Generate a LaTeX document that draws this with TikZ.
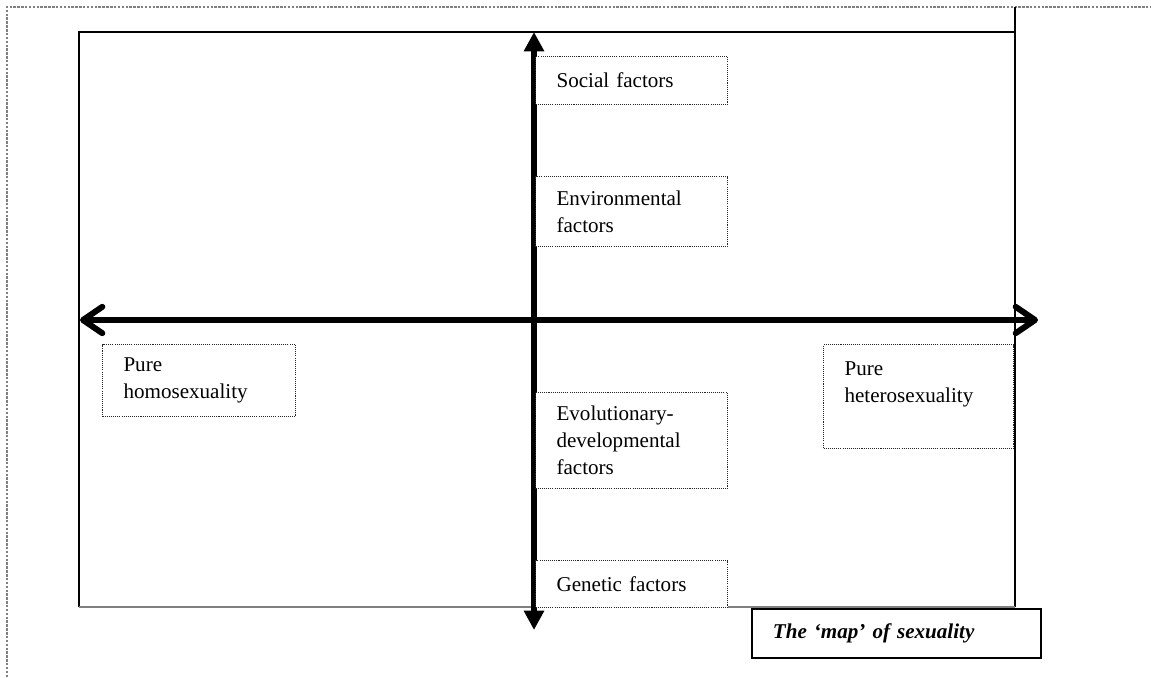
\documentclass[tikz,border=0pt]{standalone}
\usepackage{fontspec}
\setmainfont{Liberation Serif}
\usetikzlibrary{arrows.meta}

\begin{document}
\begin{tikzpicture}[x=0.02cm, y=-0.02cm,
    factorbox/.style={draw=black!85, fill=white, line width=0.6pt,
      dash pattern=on 0.6pt off 0.6pt, anchor=north west, align=left,
      inner xsep=0.42cm, inner ysep=0pt, font=\fontsize{12}{15.4}\selectfont},
    axisline/.style={line width=3.4pt}]
  \useasboundingbox (0,0) rectangle (1151,677);
  % page border
  \draw[gray, line width=0.6pt, dash pattern=on 1.4pt off 0.8pt] (7,677) -- (7,7) -- (1151,7);
  % frame of the map
  \draw[line width=1.2pt] (79,607) -- (79,32) -- (1015,32);
  \draw[line width=1.2pt] (1015,7) -- (1015,607);
  \draw[gray, line width=0.8pt] (79,607) -- (1015,607);
  % axes
  \coordinate (vtop) at (534,32);
  \coordinate (vbot) at (534,630);
  \coordinate (hleft) at (80,320);
  \coordinate (hright) at (1038,320);
  \draw[axisline, {Triangle[length=11pt,width=11pt]}-{Triangle[length=11pt,width=11pt]}] (vtop) -- (vbot);
  \draw[axisline, {Straight Barb[length=11pt,width=15pt,line width=0pt 1,round]}-{Straight Barb[length=11pt,width=15pt,line width=0pt 1,round]}] (hleft) -- (hright);
  % factors
  \node[factorbox, text width=3.0cm, minimum height=0.96cm] (social) at (535,56) {Social factors};
  \node[factorbox, text width=3.0cm, minimum height=1.4cm] (environ) at (535,176) {Environmental\\factors};
  \node[factorbox, text width=3.0cm, minimum height=1.92cm] (evodevo) at (535,392) {Evolutionary-\\developmental\\factors};
  \node[factorbox, text width=3.0cm, minimum height=0.94cm] (genetic) at (535,560) {Genetic factors};
  % poles
  \node[factorbox, text width=3.02cm, minimum height=1.44cm] (homo) at (102,344) {Pure\\homosexuality};
  \node[factorbox, text width=2.96cm, minimum height=2.08cm, inner ysep=0.34cm,
        text depth=1.1cm] (hetero) at (823,344) {Pure\\heterosexuality};
  % caption
  \node[draw, fill=white, line width=1.1pt, anchor=north west, align=left,
        text width=4.94cm, inner xsep=0.42cm, minimum height=0.98cm,
        font=\fontsize{12}{15}\selectfont\bfseries\itshape] (caption) at (751,608)
        {The `map' of sexuality};
\end{tikzpicture}
\end{document}
